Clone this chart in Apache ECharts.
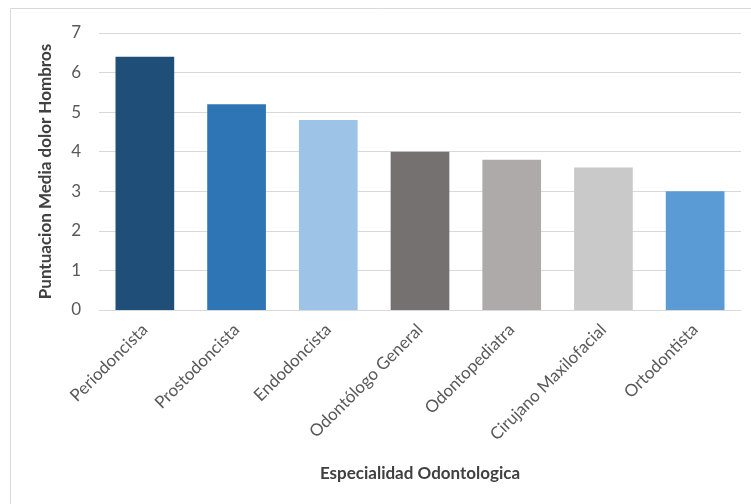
<!DOCTYPE html>
<html><head><meta charset="utf-8">
<script src="https://cdn.jsdelivr.net/npm/echarts@6/dist/echarts.min.js"></script>
<style>html,body{margin:0;padding:0;background:#fff}#c{width:751px;height:504px}</style>
</head><body><div id="c"></div>
<script>
const categories = ["Periodoncista","Prostodoncista","Endodoncista","Odontólogo General","Odontopediatra","Cirujano Maxilofacial","Ortodontista"];
const values = [6.4, 5.2, 4.8, 4.0, 3.8, 3.6, 3.0];
const barColors = ["#1F4E79","#2E75B6","#9DC3E6","#767171","#AEAAAA","#C9C9C9","#5B9BD5"];
const yTitle = "Puntuacion Media dolor Hombros";
const xTitle = "Especialidad Odontologica";

const chart = echarts.init(document.getElementById('c'), null, {renderer:'canvas'});
const font = "Lato, 'Open Sans', 'Liberation Sans', sans-serif";
chart.setOption({
  animation:false,
  graphic:[{type:'rect', shape:{x:10.5,y:8.5,width:800,height:600}, style:{fill:'none',stroke:'#d9d9d9',lineWidth:1}, silent:true}],
  grid:{left:99,right:10,top:33,bottom:194},
  xAxis:{type:'category', data:categories,
    axisLine:{lineStyle:{color:'#d9d9d9'}}, axisTick:{show:false},
    axisLabel:{rotate:45, color:'#595959', fontSize:17, fontFamily:font, margin:17, interval:0},
    name:xTitle, nameLocation:'middle', nameGap:155,
    nameTextStyle:{fontSize:17, fontWeight:'bold', color:'#404040', fontFamily:font}},
  yAxis:{type:'value', min:0, max:7, interval:1,
    axisLine:{show:false}, axisTick:{show:false},
    splitLine:{lineStyle:{color:'#d9d9d9'}},
    axisLabel:{color:'#595959', fontSize:17, fontFamily:font, margin:18},
    name:yTitle, nameLocation:'middle', nameGap:45,
    nameTextStyle:{fontSize:17, fontWeight:'bold', color:'#404040', fontFamily:font}},
  series:[{type:'bar', data:values.map((v,i)=>({value:v, itemStyle:{color:barColors[i]}})), barCategoryGap:'36%'}]
});
</script></body></html>
